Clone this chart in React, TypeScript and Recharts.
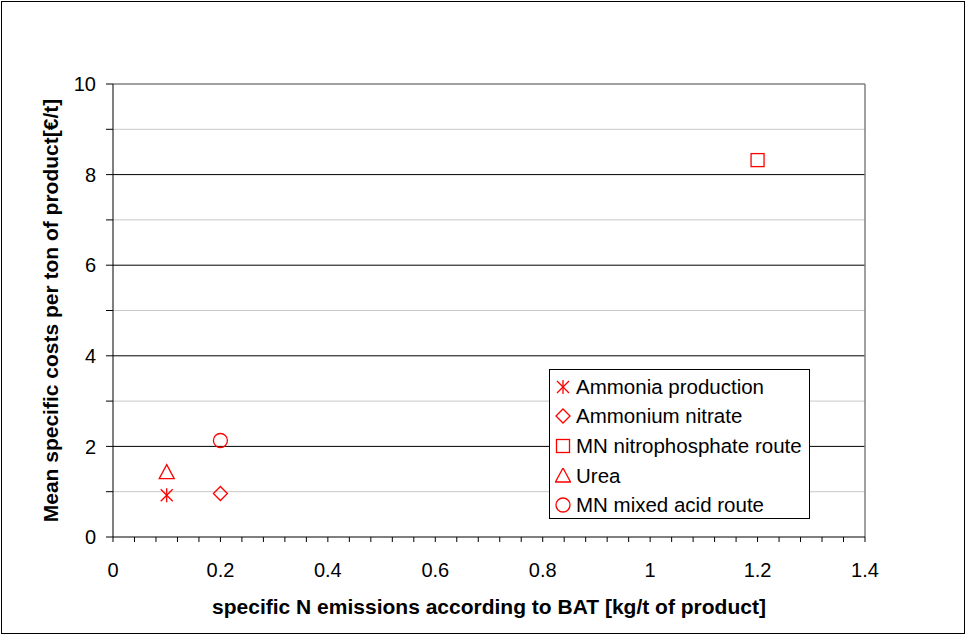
import { ScatterChart, Scatter, XAxis, YAxis, CartesianGrid, ReferenceLine, Legend } from 'recharts';

const SERIES_NAMES = ['Ammonia production', 'Ammonium nitrate', 'MN nitrophosphate route', 'Urea', 'MN mixed acid route'];
const SERIES_SYMBOLS = ['asterisk', 'diamond', 'square', 'triangle', 'circle'];
const X_VALUES = [0.1, 0.2, 1.2, 0.1, 0.2];
const Y_VALUES = [0.92, 0.96, 8.32, 1.42, 2.13];

const X_TICKS = [
  0, 0.04, 0.08, 0.12, 0.16, 0.2, 0.24, 0.28, 0.32, 0.36, 0.4, 0.44, 0.48, 0.52, 0.56, 0.6, 0.64, 0.68,
  0.72, 0.76, 0.8, 0.84, 0.88, 0.92, 0.96, 1, 1.04, 1.08, 1.12, 1.16, 1.2, 1.24, 1.28, 1.32, 1.36, 1.4,
];
const X_LABELED = [0, 0.2, 0.4, 0.6, 0.8, 1, 1.2, 1.4];
const Y_TICKS = [0, 1, 2, 3, 4, 5, 6, 7, 8, 9, 10];
const Y_LABELED = [0, 2, 4, 6, 8, 10];
const Y_MAJOR_GRID = [2, 4, 6, 8];
const Y_MINOR_GRID = [1, 3, 5, 7, 9];

const X_TITLE = 'specific N emissions according to BAT [kg/t of product]';
const Y_TITLE = 'Mean specific costs per ton of product[€/t]';

const RED = '#ff0000';
const FONT = "'Liberation Sans', Arial, sans-serif";

function Symbol({ kind, cx, cy }: { kind: string; cx: number; cy: number }) {
  const common = { fill: 'none', stroke: RED, strokeWidth: 1.3 };
  switch (kind) {
    case 'asterisk':
      return (
        <g {...common}>
          <line x1={cx} y1={cy - 7} x2={cx} y2={cy + 7} />
          <line x1={cx - 6} y1={cy - 6} x2={cx + 6} y2={cy + 6} />
          <line x1={cx - 6} y1={cy + 6} x2={cx + 6} y2={cy - 6} />
        </g>
      );
    case 'diamond':
      return <path d={`M${cx},${cy - 7}L${cx + 7},${cy}L${cx},${cy + 7}L${cx - 7},${cy}Z`} {...common} />;
    case 'square':
      return <rect x={cx - 6.5} y={cy - 6.5} width={13} height={13} {...common} />;
    case 'triangle':
      return <path d={`M${cx},${cy - 8}L${cx + 7.5},${cy + 6}L${cx - 7.5},${cy + 6}Z`} {...common} />;
    default:
      return <circle cx={cx} cy={cy} r={7} {...common} />;
  }
}

const renderLegend = () => (
  <div
    style={{
      width: 261,
      height: 150,
      boxSizing: 'border-box',
      border: '1px solid #000',
      background: '#fff',
      paddingTop: 2,
      fontFamily: FONT,
      fontSize: 20.5,
      color: '#000',
    }}
  >
    {SERIES_NAMES.map((name, i) => (
      <div key={name} style={{ display: 'flex', alignItems: 'center', height: 29.6 }}>
        <svg width={16} height={16} style={{ marginLeft: 5, marginRight: 5 }}>
          <Symbol kind={SERIES_SYMBOLS[i]} cx={8} cy={8} />
        </svg>
        <span style={{ whiteSpace: 'nowrap' }}>{name}</span>
      </div>
    ))}
  </div>
);

const isLabeled = (v: number, list: number[]) => list.some((l) => Math.abs(l - v) < 1e-6);

export default function App() {
  return (
    <div style={{ position: 'absolute', left: 0, top: 0, width: 966, height: 635, background: '#fff' }}>
      <ScatterChart width={966} height={635} margin={{ top: 84, right: 101, bottom: 0, left: 0 }}>
        <CartesianGrid horizontal vertical={false} horizontalValues={Y_MINOR_GRID} stroke="#c8c8c8" />
        <CartesianGrid horizontal vertical={false} horizontalValues={Y_MAJOR_GRID} stroke="#000" />
        <ReferenceLine y={10} stroke="#808080" strokeWidth={1.5} />
        <ReferenceLine x={1.4} stroke="#808080" strokeWidth={1.5} />
        <XAxis
          type="number"
          dataKey="x"
          domain={[0, 1.4]}
          ticks={X_TICKS}
          interval={0}
          height={98}
          tickSize={5}
          tickMargin={21}
          axisLine={{ stroke: '#000' }}
          tickLine={{ stroke: '#000' }}
          tick={{ fill: '#000', fontSize: 20, fontFamily: FONT }}
          tickFormatter={(v: number) => (isLabeled(v, X_LABELED) ? String(Math.round(v * 10) / 10) : '')}
          label={{
            value: X_TITLE,
            content: (p: any) => (
              <text
                x={p.viewBox.x + p.viewBox.width / 2}
                y={p.viewBox.y + 77}
                textAnchor="middle"
                fontFamily={FONT}
                fontSize={21}
                fontWeight="bold"
                fill="#000"
              >
                {X_TITLE}
              </text>
            ),
          }}
        />
        <YAxis
          type="number"
          dataKey="y"
          domain={[0, 10]}
          ticks={Y_TICKS}
          interval={0}
          width={113}
          tickSize={7}
          tickMargin={10}
          axisLine={{ stroke: '#000' }}
          tickLine={{ stroke: '#000' }}
          tick={{ fill: '#000', fontSize: 20, fontFamily: FONT }}
          tickFormatter={(v: number) => (isLabeled(v, Y_LABELED) ? String(v) : '')}
          label={{
            value: Y_TITLE,
            content: (p: any) => {
              const x = 58;
              const y = p.viewBox.y + p.viewBox.height / 2;
              return (
                <text
                  x={x}
                  y={y}
                  transform={`rotate(-90 ${x} ${y})`}
                  textAnchor="middle"
                  fontFamily={FONT}
                  fontSize={21}
                  fontWeight="bold"
                  fill="#000"
                >
                  {Y_TITLE}
                </text>
              );
            },
          }}
        />
        {SERIES_NAMES.map((name, i) => (
          <Scatter
            key={name}
            name={name}
            data={[{ x: X_VALUES[i], y: Y_VALUES[i] }]}
            isAnimationActive={false}
            shape={(p: any) => <Symbol kind={SERIES_SYMBOLS[i]} cx={p.cx} cy={p.cy} />}
          />
        ))}
        <Legend
          layout="vertical"
          align="center"
          verticalAlign="middle"
          content={renderLegend}
          wrapperStyle={{ left: 549, top: 369, width: 261, height: 150 }}
        />
      </ScatterChart>
      <div
        style={{
          position: 'absolute',
          left: 1,
          top: 1,
          width: 964,
          height: 633,
          boxSizing: 'border-box',
          border: '1.5px solid #000',
          pointerEvents: 'none',
        }}
      />
    </div>
  );
}
